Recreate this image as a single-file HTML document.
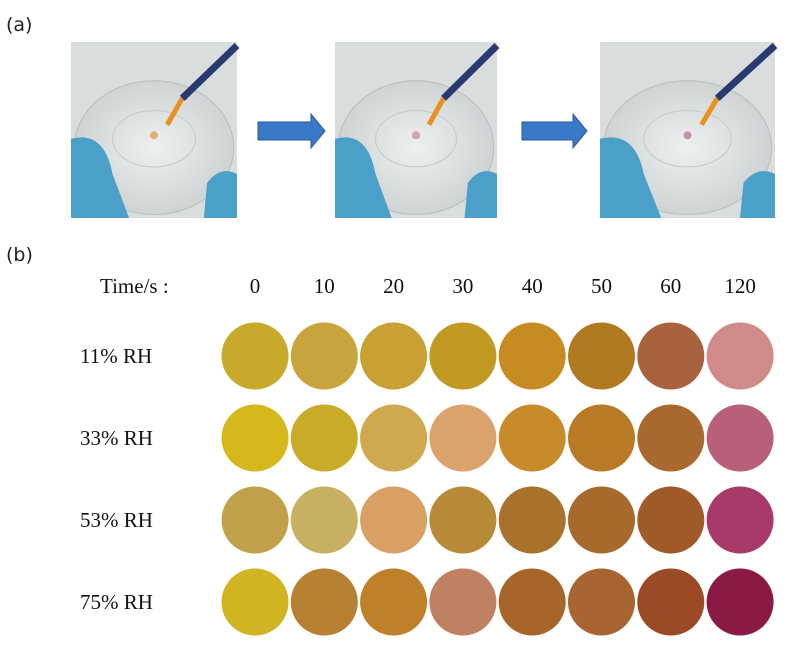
<!DOCTYPE html>
<html><head><meta charset="utf-8">
<style>
html,body{margin:0;padding:0;background:#fff;}
body{width:789px;height:649px;position:relative;overflow:hidden;font-family:"Liberation Serif",serif;}
.lbl{position:absolute;font-family:"DejaVu Sans","Liberation Sans",sans-serif;font-size:19px;color:#222;}
</style></head>
<body>
<div class="lbl" style="left:6px;top:14px">(a)</div>
<div class="lbl" style="left:6px;top:244px">(b)</div>
<svg id="fig" width="789" height="649" style="position:absolute;left:0;top:0">
<defs>
<radialGradient id="dish" cx="50%" cy="50%" r="60%"><stop offset="0" stop-color="#eef0f0"/><stop offset="1" stop-color="#c9cdce"/></radialGradient>
</defs>
<g id="photos"></g>
<g id="grid"></g>
</svg>
<script>
const times = ["0","10","20","30","40","50","60","120"];
const rows = ["11% RH","33% RH","53% RH","75% RH"];
const row0 = ["#c9a92c","#c8a53c","#c9a034","#c09a22","#c88b24","#b27a20","#a8623e","#d08a8a"];
const row1 = ["#d4b81c","#c8ac27","#cfa94f","#dba36c","#c98a2a","#b87a24","#a8682e","#b8607a"];
const row2 = ["#c0a048","#c8b062","#d8a062","#b88a37","#a8722c","#a86a2a","#a05a27","#a83a6a"];
const row3 = ["#d0b422","#b88032","#c0802a","#c08062","#a8652a","#a86532","#9a4a24","#8a1a45"];
const rowColors = [row0,row1,row2,row3];
const NS="http://www.w3.org/2000/svg";
function mk(tag,attrs,parent){const e=document.createElementNS(NS,tag);for(const k in attrs)e.setAttribute(k,attrs[k]);parent.appendChild(e);return e;}
const colX = i => 255 + i*69.3;
const rowY = j => 356 + j*82;
const grid=document.getElementById('grid');
const hdr=mk('text',{x:100,y:293,'font-size':21,fill:'#111'},grid);hdr.textContent='Time/s :';


times.forEach((t,i)=>{const tx=mk('text',{x:colX(i),y:293,'font-size':21,'text-anchor':'middle',fill:'#111'},grid);tx.textContent=t;

});
rows.forEach((r,j)=>{const tx=mk('text',{x:80,y:rowY(j)+7,'font-size':21,fill:'#111'},grid);tx.textContent=r;


rowColors[j].forEach((c,i)=>{const ci=mk('circle',{cx:colX(i),cy:rowY(j),r:33.5,fill:c},grid);

});});
// photos
const ph=document.getElementById('photos');
const photos=[[71,42,166,176,'#e0b070'],[335,42,162,176,'#d8a0a8'],[600,42,175,176,'#c890b0']];
photos.forEach((p,k)=>{const g=mk('g',{},ph);


const [x,y,w,h,spot]=p;
mk('rect',{x:x,y:y,width:w,height:h,fill:'#d9dddd'},g);
mk('ellipse',{cx:x+w*0.5,cy:y+h*0.6,rx:w*0.48,ry:h*0.38,fill:'url(#dish)',stroke:'#b8bcbc'},g);
mk('ellipse',{cx:x+w*0.5,cy:y+h*0.55,rx:w*0.25,ry:h*0.16,fill:'none',stroke:'#c4c8c8'},g);
mk('circle',{cx:x+w*0.5,cy:y+h*0.53,r:4,fill:spot},g);
mk('path',{d:`M${x} ${y+h*0.55} Q${x+w*0.2} ${y+h*0.5} ${x+w*0.25} ${y+h*0.75} L${x+w*0.35} ${y+h} L${x} ${y+h}Z`,fill:'#4aa0c8'},g);
mk('path',{d:`M${x+w*0.8} ${y+h} L${x+w*0.82} ${y+h*0.8} Q${x+w*0.9} ${y+h*0.7} ${x+w} ${y+h*0.75} L${x+w} ${y+h}Z`,fill:'#4aa0c8'},g);
mk('line',{x1:x+w*0.58,y1:y+h*0.47,x2:x+w*0.67,y2:y+h*0.32,stroke:'#e89020','stroke-width':5},g);
mk('line',{x1:x+w*0.67,y1:y+h*0.32,x2:x+w,y2:y+h*0.02,stroke:'#2a3a70','stroke-width':7},g);
});
[[258,325],[522,587]].forEach((a,k)=>{const [x1,x2]=a;const pth=mk('path',{d:`M${x1} 122 L${x2-14} 122 L${x2-14} 114 L${x2} 131 L${x2-14} 148 L${x2-14} 140 L${x1} 140Z`,fill:'#3a78c8',stroke:'#2a5a9a'},ph);

});
</script>
</body></html>
